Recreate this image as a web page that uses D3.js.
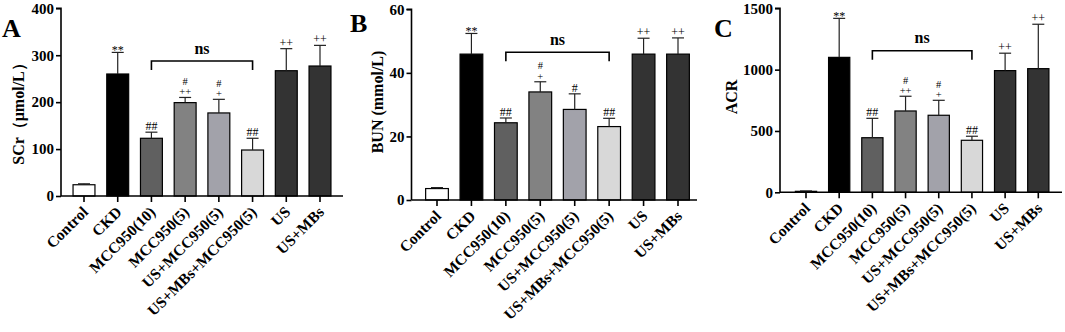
<!DOCTYPE html>
<html><head><meta charset="utf-8">
<script src="https://cdn.jsdelivr.net/npm/d3@7"></script>
<style>body{margin:0;background:#fff}svg{display:block}text{font-family:"Liberation Serif","Times New Roman",serif}</style>
</head><body><svg id="c" width="1065" height="332"></svg>
<script>
const categories = ["Control","CKD","MCC950(10)","MCC950(5)","US+MCC950(5)","US+MBs+MCC950(5)","US","US+MBs"];
const barColors = ["#ffffff","#000000","#606060","#828282","#a2a2aa","#d8d8d8","#333333","#333333"];

const scrMean = [24, 260, 123, 199, 177, 98, 267, 277];
const scrErr  = [2, 46, 13, 11, 29, 25, 47, 44];
const scrTicks = [0, 100, 200, 300, 400];
const scrMarks = [[], ["**"], ["##"], ["#","++"], ["#","+"], ["##"], ["++"], ["++"]];

const bunMean = [3.6, 45.9, 24.3, 34, 28.5, 23.1, 45.9, 45.9];
const bunErr  = [0.3, 6.5, 1.5, 3.2, 4.9, 2.6, 5.0, 5.1];
const bunTicks = [0, 20, 40, 60];
const bunMarks = [[], ["**"], ["##"], ["#","+"], ["#"], ["##"], ["++"], ["++"]];

const acrMean = [8, 1100, 445, 663, 628, 424, 992, 1008];
const acrErr  = [3, 318, 158, 120, 122, 33, 142, 362];
const acrTicks = [0, 500, 1000, 1500];
const acrMarks = [[], ["**"], ["##"], ["#","++"], ["#","+"], ["##"], ["++"], ["++"]];

const svg = d3.select("#c");

function panel(cfg) {
  const g = svg.append("g");
  const step = (cfg.lastC - cfg.firstC) / (categories.length - 1);
  const x = d3.scaleBand().domain(categories)
    .range([cfg.firstC - step / 2, cfg.lastC + step / 2])
    .paddingInner(cfg.pad).paddingOuter(cfg.pad / 2);
  const y = d3.scaleLinear().domain([0, cfg.ticks[cfg.ticks.length - 1]]).range([cfg.y0, cfg.y1]);

  g.selectAll("rect.bar").data(categories).join("rect")
    .attr("x", d => x(d)).attr("width", x.bandwidth())
    .attr("y", (d, i) => y(cfg.mean[i])).attr("height", (d, i) => y(0) - y(cfg.mean[i]))
    .attr("fill", (d, i) => barColors[i]).attr("stroke", "#000").attr("stroke-width", 1.2);

  const cap = 6;
  categories.forEach((d, i) => {
    const cx = x(d) + x.bandwidth() / 2;
    const top = y(cfg.mean[i] + cfg.err[i]);
    g.append("line").attr("x1", cx).attr("x2", cx).attr("y1", y(cfg.mean[i])).attr("y2", top)
      .attr("stroke", "#222").attr("stroke-width", 1.2);
    g.append("line").attr("x1", cx - cap).attr("x2", cx + cap).attr("y1", top).attr("y2", top)
      .attr("stroke", "#222").attr("stroke-width", 1.2);
    const marks = cfg.marks[i];
    const n = marks.length;
    marks.forEach((m, k) => {
      const off = (n - 1 - k) * 10.5;
      g.append("text").attr("x", cx).attr("y", top - 2 - off + (m === "**" ? 4 : 0))
        .attr("text-anchor", "middle").attr("font-size", n > 1 ? 10.5 : 12).attr("fill", "#000").text(m);
    });
  });

  const yAxis = d3.axisLeft(y).tickValues(cfg.ticks).tickSize(5).tickPadding(2).tickFormat(d3.format("d"));
  const ya = g.append("g").attr("transform", `translate(${cfg.ax},0)`).call(yAxis);
  ya.select(".domain").attr("stroke-width", 1.6).attr("d", `M-5,${y(cfg.ticks[cfg.ticks.length-1])}H0V${y(0)}`);
  ya.selectAll(".tick line").attr("stroke-width", 1.6);
  ya.selectAll("text").attr("font-size", 15).attr("font-weight", "bold").attr("fill", "#000")
    .style("font-family", '"Liberation Serif",serif');

  const xAxis = d3.axisBottom(x).tickSize(6).tickFormat("");
  const xa = g.append("g").attr("transform", `translate(0,${cfg.y0})`).call(xAxis);
  xa.select(".domain").attr("stroke-width", 1.6).attr("d", `M${cfg.ax},0H${cfg.axEnd}`);
  xa.selectAll(".tick line").attr("stroke-width", 1.6);
  categories.forEach(d => {
    const cx = x(d) + x.bandwidth() / 2;
    g.append("text").attr("transform", `translate(${cx + 5},${cfg.y0 + 17}) rotate(-45)`)
      .attr("text-anchor", "end").attr("font-size", 15.5).attr("font-weight", "bold").text(d);
  });

  const bx1 = x(categories[2]) + x.bandwidth() / 2, bx2 = x(categories[5]) + x.bandwidth() / 2;
  g.append("path").attr("d", `M${bx1},${cfg.brY + 9}V${cfg.brY}H${bx2}V${cfg.brY + 9}`)
    .attr("fill", "none").attr("stroke", "#000").attr("stroke-width", 1.6);
  g.append("text").attr("x", (bx1 + bx2) / 2).attr("y", cfg.brY - 7.5).attr("text-anchor", "middle")
    .attr("font-size", 16).attr("font-weight", "bold").text("ns");

  g.append("text").attr("transform", `translate(${cfg.titleX},${cfg.titleY}) rotate(-90)`)
    .attr("text-anchor", "middle").attr("font-size", 16).attr("font-weight", "bold").text(cfg.title);
  g.append("text").attr("x", cfg.letterX).attr("y", cfg.letterY)
    .attr("font-size", 26).attr("font-weight", "bold").text(cfg.letter);
}

panel({mean: scrMean, err: scrErr, ticks: scrTicks, marks: scrMarks, ax: 61, axEnd: 343,
  firstC: 84, lastC: 320, pad: 0.35, y0: 196, y1: 8.3, brY: 61,
  title: "SCr（μmol/L）", titleX: 24, titleY: 110, letter: "A", letterX: 2, letterY: 37});
panel({mean: bunMean, err: bunErr, ticks: bunTicks, marks: bunMarks, ax: 411.5, axEnd: 697,
  firstC: 437, lastC: 678, pad: 0.34, y0: 200, y1: 9.3, brY: 52.3,
  title: "BUN (mmol/L)", titleX: 383, titleY: 102, letter: "B", letterX: 350, letterY: 32});
panel({mean: acrMean, err: acrErr, ticks: acrTicks, marks: acrMarks, ax: 780, axEnd: 1062,
  firstC: 806, lastC: 1038.3, pad: 0.36, y0: 192.3, y1: 8.3, brY: 50.7,
  title: "ACR", titleX: 737, titleY: 97, letter: "C", letterX: 714, letterY: 37});
</script></body></html>
